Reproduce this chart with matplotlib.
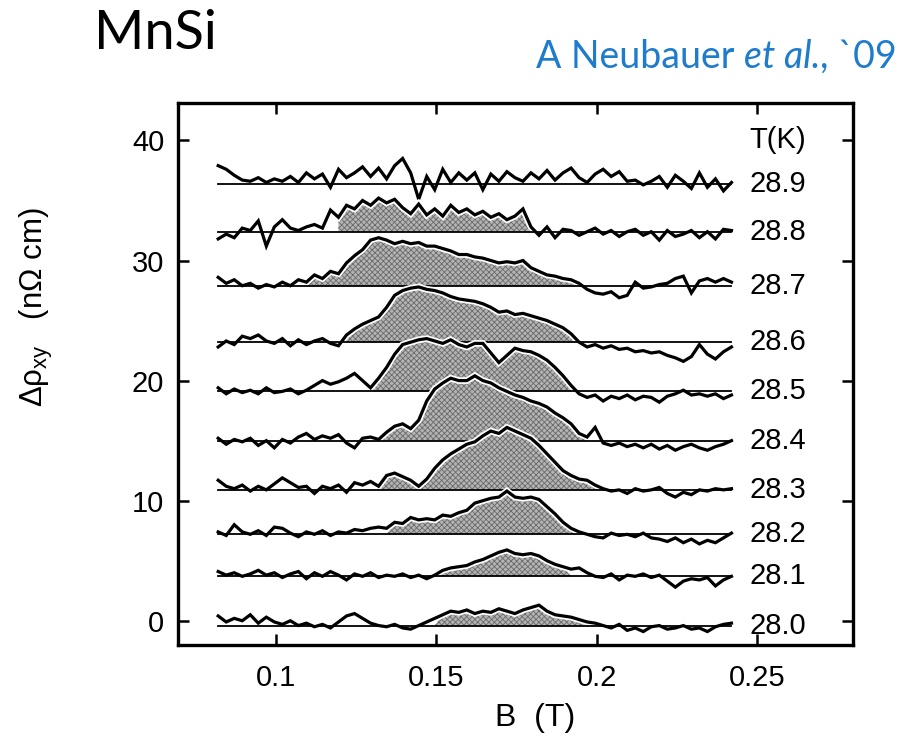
import matplotlib
matplotlib.use("Agg")
import matplotlib.pyplot as plt
import matplotlib.patheffects as pe
import numpy as np

plt.rcParams['font.family'] = ['Liberation Sans', 'DejaVu Sans']
plt.rcParams['mathtext.fontset'] = 'custom'
plt.rcParams['mathtext.rm'] = 'Liberation Sans'
plt.rcParams['mathtext.it'] = 'Liberation Sans'
plt.rcParams['hatch.color'] = '#6a6a6a'
plt.rcParams['hatch.linewidth'] = 0.6

B_FIELD = np.linspace(0.082, 0.242, 65)

TEMPS = ["28.9", "28.8", "28.7", "28.6", "28.5", "28.4", "28.3", "28.2", "28.1", "28.0"]
# vertical offset of each trace (nOhm cm)
BASELINES = [36.4, 32.4, 27.9, 23.2, 19.1, 15.0, 10.9, 7.2, 3.7, -0.4]
# field window of the shaded (A-phase) region, None = no shading
FILL_START = [None, 0.1175, 0.112, 0.1215, 0.130, 0.134, 0.134, 0.1369, 0.1466, 0.1516]
FILL_END = [None, 0.1785, 0.1944, 0.1944, 0.1928, 0.195, 0.200, 0.1934, 0.1919, 0.195]

# deviation from baseline
D289 = [1.5, 1.2, 0.7, 0.3, 0.2, 0.5, 0.1, 0.4, 0.2, 0.6, 0.1, 0.9, 0.4, 0.8, -0.3, 1.2,
        0.5, 0.9, 1.4, 0.6, 1.3, 0.4, 1.5, 2.1, 0.9, -1.3, 0.6, -0.5, 1.2, 0.1, 0.9, 0.3,
        0.9, -0.5, 0.8, 0.2, 1.0, 0.5, 0.2, 0.9, 0.4, 1.1, 0.3, 0.9, 1.3, 0.5, 0.1, 0.8,
        1.2, 0.6, 1.0, 0.2, 0.3, -0.1, 0.2, 0.6, -0.3, 0.7, 0.2, -0.4, 0.9, -0.3, 0.4, -0.6, 0.1]
D288 = [-0.6, -0.2, -0.5, 0.3, 0.1, 0.9, -1.2, 0.4, 1.0, 0.3, 0.1, 0.4, 0.6, 0.3, 1.8, 1.2,
        2.2, 1.9, 2.6, 2.2, 2.8, 2.4, 2.7, 2.0, 1.5, 2.3, 1.4, 1.9, 1.3, 2.2, 1.6, 1.9,
        1.4, 1.7, 1.2, 1.5, 1.0, 1.3, 1.9, 0.4, -0.3, 0.4, -0.5, 0.2, 0.1, -0.3, 0.0, 0.3,
        -0.2, 0.1, -0.4, 0.0, 0.2, -0.3, 0.0, -0.7, 0.1, -0.4, -0.2, 0.1, -0.5, 0.0, -0.6, 0.2, 0.1]
D287 = [0.7, 0.2, 0.5, 0.0, 0.2, -0.2, 0.1, -0.1, 0.3, 0.0, 0.5, 0.3, 0.9, 0.6, 1.2, 1.0,
        1.9, 2.5, 3.0, 3.8, 4.0, 3.8, 3.5, 3.7, 3.5, 3.6, 3.3, 3.3, 3.1, 2.9, 2.6, 2.6,
        2.4, 2.3, 2.1, 1.9, 2.0, 1.9, 2.1, 1.5, 1.2, 0.9, 0.8, 0.6, 0.5, 0.2, -0.3, -0.6,
        -0.7, -0.5, -1.0, -0.8, 0.3, -0.2, -0.1, 0.1, 0.2, 0.6, 0.8, -0.6, 0.4, 0.6, 0.3, 0.6, 0.3]
D286 = [-0.4, 0.1, -0.2, 0.5, 0.3, 0.6, 0.1, -0.1, 0.3, -0.3, 0.2, -0.2, 0.1, 0.3, -0.1, -0.3,
        0.6, 1.1, 1.5, 1.8, 2.1, 2.9, 3.9, 4.3, 4.5, 4.6, 4.4, 4.3, 4.1, 3.8, 3.6, 3.5,
        3.4, 3.2, 2.9, 2.5, 2.6, 2.3, 2.4, 2.2, 2.0, 1.8, 1.5, 1.2, 0.7, 0.0, -0.4, -0.2,
        -0.5, -0.3, -0.6, -0.5, -0.8, -0.7, -0.9, -0.8, -1.1, -1.3, -1.6, -1.2, -0.2, -1.0, -1.4, -0.8, -0.4]
D285 = [0.3, -0.2, 0.2, -0.1, 0.1, -0.2, 0.3, -0.1, 0.0, 0.2, -0.2, 0.1, 0.5, 0.9, 0.6, 0.8,
        1.1, 1.5, 0.9, 0.3, 1.1, 2.0, 3.1, 3.9, 4.1, 4.3, 4.4, 4.2, 4.0, 4.3, 3.9, 3.7,
        4.0, 4.0, 3.2, 2.4, 3.0, 3.6, 3.4, 3.3, 3.0, 2.6, 2.0, 1.3, 0.5, -0.2, -0.5, -0.3,
        -0.8, -0.4, -0.6, -0.3, -0.7, -0.4, -0.5, -0.9, -0.4, -0.2, 0.1, -0.3, -0.2, -0.4, -0.2, -0.6, -0.3]
D284 = [0.2, -0.3, 0.1, -0.1, 0.2, -0.4, 0.0, -0.6, 0.1, -0.2, 0.3, 0.6, 0.1, 0.4, 0.2, 0.5,
        -0.2, -0.6, 0.2, 0.3, 0.1, 0.7, 1.2, 1.4, 1.0, 1.7, 3.3, 4.3, 4.8, 5.2, 5.0, 5.0,
        5.4, 5.0, 4.8, 4.4, 4.1, 3.8, 3.6, 3.3, 3.1, 2.8, 2.3, 1.9, 1.4, 0.6, 0.3, 1.1,
        -0.2, -0.4, -0.2, -0.5, -0.3, -0.6, -0.3, -0.7, -0.4, -0.8, -0.5, -0.3, -0.6, -0.8, -0.5, -0.3, 0.0]
D283 = [0.8, 0.3, 0.1, 0.4, -0.1, 0.3, 0.0, 0.5, 1.0, 0.6, 0.2, 0.3, -0.3, 0.3, 0.1, 0.4,
        -0.2, 0.6, 0.4, 0.7, 0.3, 1.2, 1.4, 1.1, 0.8, 0.3, 0.9, 1.8, 2.5, 3.0, 3.4, 3.8,
        4.0, 4.5, 4.9, 4.7, 5.2, 4.9, 4.6, 4.3, 3.7, 3.0, 2.3, 1.6, 1.2, 0.9, 0.8, 0.4,
        0.1, -0.1, 0.0, -0.3, 0.1, -0.1, 0.0, 0.2, -0.3, -0.6, -0.2, -0.4, 0.0, -0.1, 0.1, 0.0, 0.1]
D282 = [0.2, -0.1, 0.8, 0.2, 0.0, 0.3, -0.1, 0.6, 0.5, 0.1, -0.2, 0.2, 0.0, 0.3, -0.1, 0.2,
        0.1, 0.4, 0.3, 0.5, 0.6, 0.5, 1.0, 0.9, 1.4, 1.2, 1.3, 1.2, 1.6, 1.5, 1.8, 2.0,
        2.6, 2.8, 3.0, 3.1, 3.6, 3.1, 3.0, 3.1, 2.9, 2.3, 1.7, 1.0, 0.5, 0.2, 0.0, -0.2,
        -0.3, 0.1, -0.1, 0.0, -0.2, 0.1, -0.3, -0.4, -0.6, -0.3, -0.7, -0.4, -0.8, -0.5, -0.7, -0.3, 0.1]
D281 = [0.4, 0.1, 0.3, 0.0, 0.2, 0.5, 0.1, 0.3, -0.1, 0.2, 0.4, -0.2, 0.3, 0.0, 0.4, 0.1,
        -0.3, 0.2, 0.0, 0.3, -0.1, 0.1, 0.0, 0.2, -0.1, 0.1, -0.2, 0.1, 0.5, 0.7, 0.8, 0.9,
        1.2, 1.4, 1.7, 2.0, 2.2, 1.9, 1.8, 1.9, 1.7, 1.3, 1.0, 0.8, 0.6, 0.7, 0.3, 0.0,
        -0.1, 0.2, -0.3, 0.1, 0.0, 0.2, -0.1, 0.1, -0.4, -0.9, -0.4, -0.2, -0.3, -0.1, -0.8, -0.3, 0.0]
D280 = [0.8, 0.3, 0.6, 0.4, 0.9, 0.2, 0.7, 0.3, 0.1, 0.4, 0.0, 0.2, -0.1, 0.1, -0.2, 0.3,
        0.8, 1.0, 0.6, 0.2, 0.0, -0.1, 0.1, -0.2, -0.3, 0.0, 0.3, 0.6, 0.9, 1.2, 1.1, 1.3,
        1.0, 1.2, 1.1, 1.4, 1.2, 1.0, 1.3, 1.5, 1.7, 1.2, 0.9, 0.8, 0.7, 0.5, 0.3, 0.2,
        0.0, -0.2, 0.1, -0.4, -0.2, -0.5, -0.1, 0.0, -0.3, -0.2, 0.0, -0.3, -0.2, -0.5, -0.1, 0.1, 0.2]
TRACES = [D289, D288, D287, D286, D285, D284, D283, D282, D281, D280]

fig = plt.figure(figsize=(9.04, 7.48), dpi=100)
ax = fig.add_axes([0.197, 0.138, 0.747, 0.724])

halo = [pe.Stroke(linewidth=4.8, foreground="white"), pe.Normal()]
for k, (temp, base, d) in enumerate(zip(TEMPS, BASELINES, TRACES)):
    d = np.array(d)
    y = base + d
    z = 2 + 3 * k
    if FILL_START[k] is not None:
        mask = (B_FIELD >= FILL_START[k]) & (B_FIELD <= FILL_END[k])
        ax.fill_between(B_FIELD, base, base + np.clip(d, 0, None), where=mask,
                        interpolate=True, facecolor="#b4b4b4", edgecolor="none",
                        hatch="xxxxxx", lw=0, zorder=z)
    ax.plot(B_FIELD, y, color="black", lw=2.3, zorder=z + 1, path_effects=halo,
            solid_joinstyle="miter")
    ax.plot([B_FIELD[0], B_FIELD[-1]], [base, base], color="black", lw=1.3, zorder=z + 2)
    ax.text(0.2475, base, temp, fontsize=21, va="center", ha="left")

ax.text(0.2475, 40, "T(K)", fontsize=21, va="center", ha="left")

ax.set_xlim(0.0695, 0.28)
ax.set_ylim(-2.0, 43.1)
ax.set_xticks([0.1, 0.15, 0.2, 0.25])
ax.set_xticklabels(["0.1", "0.15", "0.2", "0.25"])
ax.set_yticks([0, 10, 20, 30, 40])
ax.tick_params(direction="in", length=8, width=1.8, top=True, right=True,
               labelsize=21, pad=10)
ax.tick_params(axis="x", pad=14)
for s in ax.spines.values():
    s.set_linewidth(2.4)

fig.text(0.592, 0.04, "B  (T)", fontsize=23, ha="center", va="center")
fig.text(0.04, 0.59, r"Δρ$_{\mathrm{xy}}$   (nΩ cm)", fontsize=22.5, rotation=90,
         ha="center", va="center")

fig.text(0.104, 0.955, "MnSi", fontsize=39, family="Lato", ha="left", va="center")

# citation: "A Neubauer et al., `09" with italic et al., right aligned at x=897 px
renderer = fig.canvas.get_renderer()
pieces = [("A Neubauer ", "normal"), ("et al.", "italic"), (", `09", "normal")]
cite_kw = dict(fontsize=27, family="Lato", color="#1f7ccc", va="baseline", ha="left")
widths = []
for txt, sty in pieces:
    t = fig.text(0, 0, txt, style=sty, **cite_kw)
    widths.append(t.get_window_extent(renderer).width)
    t.remove()
x0 = 897 - sum(widths)
for (txt, sty), w in zip(pieces, widths):
    fig.text(x0 / 904, 1 - 68 / 748, txt, style=sty, **cite_kw)
    x0 += w

fig.savefig("out.png", dpi=100)
